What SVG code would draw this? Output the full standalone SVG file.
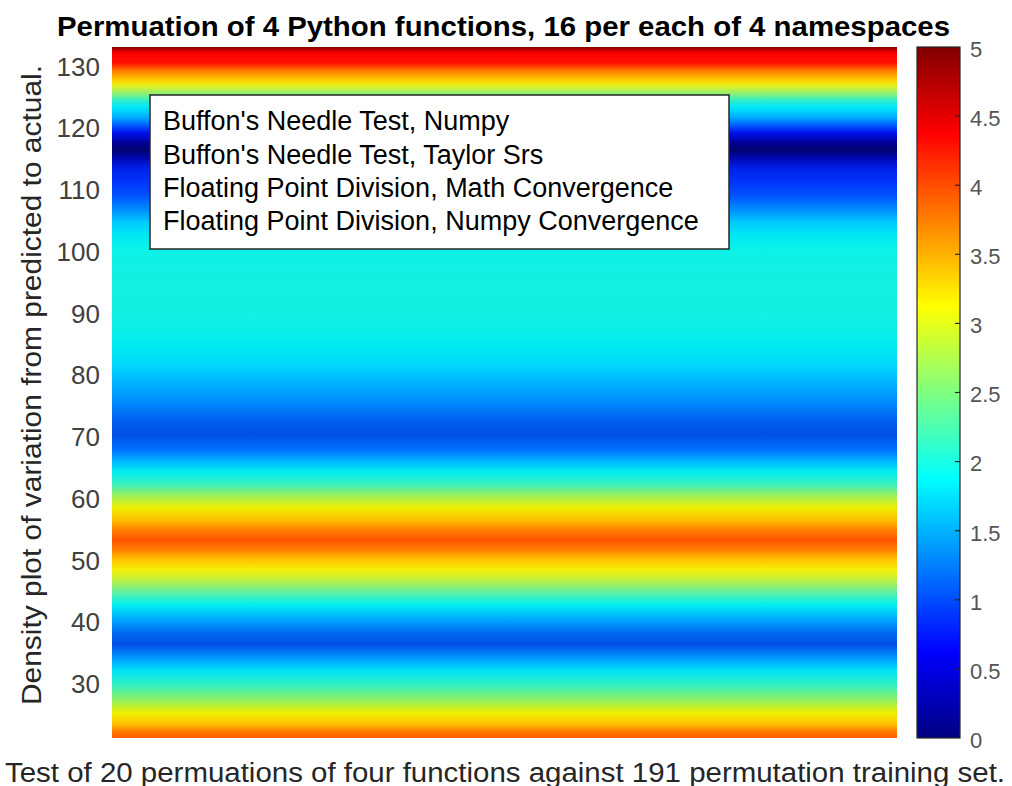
<svg xmlns="http://www.w3.org/2000/svg" width="1012" height="786" viewBox="0 0 1012 786">
  <defs>
    <!-- density bands, top (y=47) to bottom (y=738) -->
    <linearGradient id="density" x1="0" y1="0" x2="0" y2="1">
      <stop offset="0.000" stop-color="#780000"/>
      <stop offset="0.004" stop-color="#c00000"/>
      <stop offset="0.009" stop-color="#ff0000"/>
      <stop offset="0.023" stop-color="#ff1000"/>
      <stop offset="0.033" stop-color="#ff7000"/>
      <stop offset="0.048" stop-color="#ffd000"/>
      <stop offset="0.056" stop-color="#e8f020"/>
      <stop offset="0.067" stop-color="#90f070"/>
      <stop offset="0.077" stop-color="#30f0c8"/>
      <stop offset="0.087" stop-color="#00e8f8"/>
      <stop offset="0.101" stop-color="#00b0ff"/>
      <stop offset="0.113" stop-color="#0060ff"/>
      <stop offset="0.124" stop-color="#0010f0"/>
      <stop offset="0.139" stop-color="#000090"/>
      <stop offset="0.149" stop-color="#000070"/>
      <stop offset="0.161" stop-color="#0008b0"/>
      <stop offset="0.175" stop-color="#0020e8"/>
      <stop offset="0.192" stop-color="#0030f8"/>
      <stop offset="0.214" stop-color="#0050ff"/>
      <stop offset="0.236" stop-color="#0090ff"/>
      <stop offset="0.253" stop-color="#00c8ff"/>
      <stop offset="0.272" stop-color="#00e8f4"/>
      <stop offset="0.294" stop-color="#0cf2e8"/>
      <stop offset="0.337" stop-color="#14f0e0"/>
      <stop offset="0.395" stop-color="#12f0e4"/>
      <stop offset="0.431" stop-color="#00ecf0"/>
      <stop offset="0.460" stop-color="#00d8fa"/>
      <stop offset="0.489" stop-color="#00b0ff"/>
      <stop offset="0.511" stop-color="#0090ff"/>
      <stop offset="0.540" stop-color="#0060f0"/>
      <stop offset="0.561" stop-color="#0050e6"/>
      <stop offset="0.583" stop-color="#0070ff"/>
      <stop offset="0.600" stop-color="#00b8ff"/>
      <stop offset="0.615" stop-color="#00eef0"/>
      <stop offset="0.634" stop-color="#40f0b8"/>
      <stop offset="0.651" stop-color="#a8f050"/>
      <stop offset="0.667" stop-color="#f0f000"/>
      <stop offset="0.684" stop-color="#ffc000"/>
      <stop offset="0.699" stop-color="#ff8000"/>
      <stop offset="0.713" stop-color="#ff5400"/>
      <stop offset="0.728" stop-color="#ff8000"/>
      <stop offset="0.742" stop-color="#ffc400"/>
      <stop offset="0.757" stop-color="#f4f008"/>
      <stop offset="0.771" stop-color="#c0f040"/>
      <stop offset="0.789" stop-color="#60f0a0"/>
      <stop offset="0.807" stop-color="#00f0f0"/>
      <stop offset="0.829" stop-color="#00a8ff"/>
      <stop offset="0.848" stop-color="#0068f0"/>
      <stop offset="0.865" stop-color="#0050e6"/>
      <stop offset="0.884" stop-color="#0098ff"/>
      <stop offset="0.902" stop-color="#00e0f8"/>
      <stop offset="0.923" stop-color="#30f0c0"/>
      <stop offset="0.945" stop-color="#90f060"/>
      <stop offset="0.964" stop-color="#f0f000"/>
      <stop offset="0.980" stop-color="#ffc000"/>
      <stop offset="0.991" stop-color="#ff7800"/>
      <stop offset="1.000" stop-color="#ff5c00"/>
    </linearGradient>
    <!-- jet colour scale, 0 at the bottom, 5 at the top -->
    <linearGradient id="jet" x1="0" y1="1" x2="0" y2="0">
      <stop offset="0" stop-color="#000080"/>
      <stop offset="0.125" stop-color="#0000ff"/>
      <stop offset="0.375" stop-color="#00ffff"/>
      <stop offset="0.625" stop-color="#ffff00"/>
      <stop offset="0.875" stop-color="#ff0000"/>
      <stop offset="1" stop-color="#800000"/>
    </linearGradient>
    <style>
      text { font-family: "Liberation Sans", Arial, sans-serif; }
      .title { font-size: 28px; font-weight: bold; fill: #000; }
      .axlabel { font-size: 27px; fill: #262626; }
      .tick { font-size: 26px; fill: #404040; text-anchor: end; }
      .cbtick { font-size: 22px; fill: #555; }
      .legend { font-size: 27px; fill: #000; }
      .frame { fill: none; stroke: #262626; stroke-width: 1.2; }
    </style>
  </defs>

  <rect width="1012" height="786" fill="#fff"/>

  <text class="title" x="57" y="36" textLength="893" lengthAdjust="spacingAndGlyphs">Permuation of 4 Python functions, 16 per each of 4 namespaces</text>

  <!-- heat map -->
  <rect x="112" y="47" width="785" height="691" fill="url(#density)"/>

  <!-- y axis ticks -->
  <g id="yticks">
    <text class="tick" x="100" y="76">130</text>
    <text class="tick" x="100" y="137">120</text>
    <text class="tick" x="100" y="199">110</text>
    <text class="tick" x="100" y="261">100</text>
    <text class="tick" x="100" y="323">90</text>
    <text class="tick" x="100" y="384">80</text>
    <text class="tick" x="100" y="446">70</text>
    <text class="tick" x="100" y="508">60</text>
    <text class="tick" x="100" y="570">50</text>
    <text class="tick" x="100" y="631">40</text>
    <text class="tick" x="100" y="693">30</text>
  </g>

  <text class="axlabel" transform="translate(41,705) rotate(-90)" x="0" y="0" textLength="640" lengthAdjust="spacingAndGlyphs">Density plot of variation from predicted to actual.</text>

  <text class="axlabel" x="5" y="782" textLength="1000" lengthAdjust="spacingAndGlyphs">Test of 20 permuations of four functions against 191 permutation training set.</text>

  <!-- legend -->
  <g id="legend">
    <rect x="150" y="95" width="579" height="154" fill="#fff" stroke="#262626" stroke-width="1.5"/>
    <text class="legend" x="163" y="130">Buffon's Needle Test, Numpy</text>
    <text class="legend" x="163" y="164">Buffon's Needle Test, Taylor Srs</text>
    <text class="legend" x="163" y="197">Floating Point Division, Math Convergence</text>
    <text class="legend" x="163" y="230">Floating Point Division, Numpy Convergence</text>
  </g>

  <!-- colour bar -->
  <g id="colorbar">
    <rect x="917" y="47" width="43" height="691" fill="url(#jet)"/>
    <rect class="frame" x="917" y="47" width="43" height="691"/>
    <g stroke="#262626" stroke-width="1.2">
      <line x1="955" y1="116.1" x2="960" y2="116.1"/>
      <line x1="955" y1="185.2" x2="960" y2="185.2"/>
      <line x1="955" y1="254.3" x2="960" y2="254.3"/>
      <line x1="955" y1="323.4" x2="960" y2="323.4"/>
      <line x1="955" y1="392.5" x2="960" y2="392.5"/>
      <line x1="955" y1="461.6" x2="960" y2="461.6"/>
      <line x1="955" y1="530.7" x2="960" y2="530.7"/>
      <line x1="955" y1="599.8" x2="960" y2="599.8"/>
      <line x1="955" y1="668.9" x2="960" y2="668.9"/>
    </g>
    <text class="cbtick" x="970" y="57">5</text>
    <text class="cbtick" x="970" y="126">4.5</text>
    <text class="cbtick" x="970" y="195">4</text>
    <text class="cbtick" x="970" y="264">3.5</text>
    <text class="cbtick" x="970" y="333">3</text>
    <text class="cbtick" x="970" y="402">2.5</text>
    <text class="cbtick" x="970" y="471">2</text>
    <text class="cbtick" x="970" y="541">1.5</text>
    <text class="cbtick" x="970" y="610">1</text>
    <text class="cbtick" x="970" y="679">0.5</text>
    <text class="cbtick" x="970" y="748">0</text>
  </g>
</svg>
